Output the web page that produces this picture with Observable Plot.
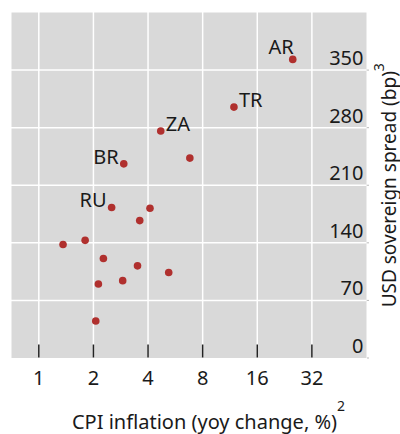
<!DOCTYPE html>
<html><head><meta charset="utf-8">
<script src="https://cdn.jsdelivr.net/npm/d3@7"></script>
<script src="https://cdn.jsdelivr.net/npm/@observablehq/plot@0.6"></script>
<style>html,body{margin:0;padding:0;background:#fff} svg{display:block}</style>
</head><body><div id="chart"></div>
<script>
const countries = ["AR","TR","ZA","BR","","RU","","","","","","","","","",""];
const inflation = [25.1, 11.9, 4.7, 2.94, 6.8, 2.52, 4.1, 3.6, 1.36, 1.8, 2.27, 3.5, 5.2, 2.13, 2.9, 2.06];
const spread    = [363, 305, 276, 236, 243, 183, 182, 167, 138, 143, 121, 112, 104, 90, 94, 45];
const xTicks = [1, 2, 4, 8, 16, 32];
const yTicks = [0, 70, 140, 210, 280, 350];
const xTitle = "CPI inflation (yoy change, %)";
const xTitleSup = "2";
const yTitle = "USD sovereign spread (bp)";
const yTitleSup = "3";

const data = countries.map((c, i) => ({c, x: inflation[i], y: spread[i]}));
const W = 400, H = 434, mt = 12, mr = 34, mb = 76.5, ml = 11;
const innerH = H - mt - mb;
const ink = "#1a1a1a";
const named = (list) => data.filter(d => list.includes(d.c));

const plot = Plot.plot({
  width: W, height: H,
  marginTop: mt, marginRight: mr, marginBottom: mb, marginLeft: ml,
  style: {fontFamily: "'Noto Sans', sans-serif", fontSize: "20px", background: "white", color: ink, overflow: "visible"},
  x: {type: "log", base: 2, domain: [Math.SQRT1_2, 64], axis: null},
  y: {domain: [0, 420], axis: null},
  marks: [
    Plot.frame({fill: "#d9d9d9", stroke: null}),
    Plot.ruleX(xTicks, {x: d => d, stroke: "white", strokeWidth: 1.5}),
    Plot.ruleY(yTicks.filter(d => d > 0), {y: d => d, stroke: "white", strokeWidth: 1.5}),
    Plot.ruleX(xTicks, {x: d => d, stroke: "#222", strokeWidth: 1.5, insetTop: innerH - 13}),
    Plot.axisY({anchor: "right", ticks: yTicks, tickSize: 2, tickFormat: () => "", stroke: "#bbb", label: null}),
    Plot.text(yTicks, {y: d => d, text: d => String(d), frameAnchor: "right", textAnchor: "end", lineAnchor: "bottom", dx: -3, dy: -5, fill: ink}),
    Plot.text(xTicks, {x: d => d, text: d => String(d), frameAnchor: "bottom", lineAnchor: "middle", dy: 21, fill: ink}),
    Plot.dot(data, {x: "x", y: "y", r: 3.8, fill: "#b0302e", stroke: null}),
    Plot.text(named(["BR", "RU"]), {x: "x", y: "y", text: "c", textAnchor: "end", lineAnchor: "bottom", dx: -5, fill: ink}),
    Plot.text(named(["TR", "ZA"]), {x: "x", y: "y", text: "c", textAnchor: "start", lineAnchor: "bottom", dx: 5, fill: ink}),
    Plot.text(named(["AR"]), {x: "x", y: "y", text: "c", textAnchor: "end", lineAnchor: "bottom", dx: 1, dy: -5, fill: ink}),
    Plot.text([xTitle], {text: d => d, frameAnchor: "bottom", textAnchor: "middle", lineAnchor: "bottom", dy: 70.5, dx: 19.5, fill: ink}),
    Plot.text([yTitle], {text: d => d, frameAnchor: "right", textAnchor: "middle", rotate: -90, lineAnchor: "bottom", dx: 29, fontSize: 19, fill: ink})
  ]
});

const svg = d3.select(plot);
svg.selectAll("text").filter(function() { return this.textContent === xTitle; })
  .append("tspan").attr("dy", -18).attr("font-size", "14px").text(xTitleSup);
svg.selectAll("text").filter(function() { return this.textContent === yTitle; })
  .append("tspan").attr("dy", -12).attr("font-size", "14px").text(yTitleSup);

document.getElementById("chart").appendChild(plot);
</script>
</body></html>
